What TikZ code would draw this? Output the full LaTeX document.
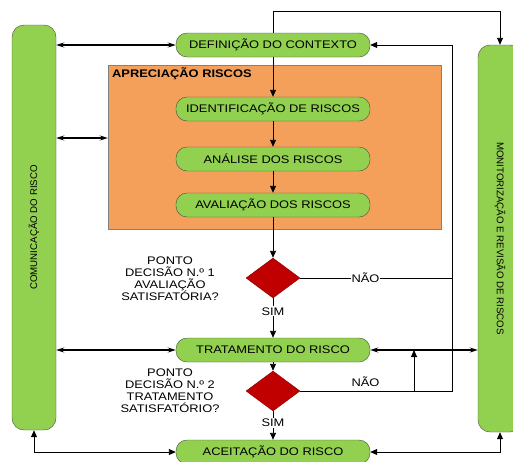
\documentclass[tikz,border=0pt]{standalone}
\usepackage{fontspec}
\setmainfont{Liberation Sans}[FakeStretch=1.17]
\newfontfamily\sidefont{Liberation Sans}
\usepackage{tikz}
\usetikzlibrary{calc}
\usetikzlibrary{arrows.meta}
\usetikzlibrary{shapes.geometric}
\usetikzlibrary{positioning}
\definecolor{leaf}{RGB}{146, 208, 80}
\definecolor{leafline}{RGB}{70, 80, 60}
\definecolor{apricot}{RGB}{245, 160, 90}
\definecolor{crimson}{RGB}{192, 0, 0}

\begin{document}
\begin{tikzpicture}[x=1pt, y=-1pt,
        every node/.style={font=\fontsize{11}{12}\selectfont},
        stepbox/.style={draw=leafline, fill=leaf, rounded corners=11pt, minimum width=194pt, minimum height=24pt, inner sep=0pt},
        sidebar/.style={draw=leafline, fill=leaf, rounded corners=12pt, minimum height=44pt, inner sep=0pt, font=\sidefont\fontsize{9.7}{11}\selectfont},
        decision/.style={diamond, draw=crimson!70!black, fill=crimson, minimum width=54pt, minimum height=40pt, inner sep=0pt},
        flow/.style={-{Triangle[length=7pt, width=6pt]}, line width=0.9pt},
        link/.style={{Stealth[length=8pt, width=5pt]}-{Stealth[length=8pt, width=5pt]}, line width=2.4pt},
        tag/.style={fill=white, inner sep=1pt}]
            % Frame to ensure alignment:
            \useasboundingbox[fill=white] (0, 0) rectangle (513, 461);
            % Side bars:
            \node[sidebar, rotate=90,  minimum width=405pt] (com) at ( 34, 227.5) {COMUNICAÇÃO DO RISCO};
            \node[sidebar, rotate=-90, minimum width=387pt] (mon) at (500, 238.5) {MONITORIZAÇÃO E REVISÃO DE RISCOS};
            % Appraisal block:
            \node[draw=gray, fill=apricot, minimum width=333pt, minimum height=164pt, inner sep=0pt] (aprec) at (274.5, 147) {};
            \node[anchor=north west, font=\bfseries\fontsize{11}{12}\selectfont, inner sep=0pt] (aprectitle) at (112, 68) {APRECIAÇÃO RISCOS};
            % Steps:
            \node[stepbox] (def)  at (273,  45) {DEFINIÇÃO DO CONTEXTO};
            \node[stepbox] (iden) at (273, 109) {IDENTIFICAÇÃO DE RISCOS};
            \node[stepbox] (ana)  at (273, 159) {ANÁLISE DOS RISCOS};
            \node[stepbox] (aval) at (273, 205) {AVALIAÇÃO DOS RISCOS};
            \node[decision] (d1)  at (273, 278) {};
            \node[stepbox] (trat) at (273, 350) {TRATAMENTO DO RISCO};
            \node[decision] (d2)  at (273, 391) {};
            \node[stepbox] (ace)  at (273, 452) {ACEITAÇÃO DO RISCO};
            % Questions:
            \node[align=center, inner sep=0pt] (q1) at (170, 279) {PONTO\\DECISÃO N.º 1\\AVALIAÇÃO\\SATISFATÓRIA?};
            \node[align=center, inner sep=0pt] (q2) at (170, 391) {PONTO\\DECISÃO N.º 2\\TRATAMENTO\\SATISFATÓRIO?};
            % Loop points:
            \coordinate (loop1) at (452, 278);
            \coordinate (loop2) at (452, 391);
            \coordinate (up2)   at (414, 391);
            % Main flow:
            \draw[flow] (def)  -- (iden);
            \draw[flow] (iden) -- (ana);
            \draw[flow] (ana)  -- (aval);
            \draw[flow] (aval) -- (d1);
            \draw[flow] (d1)   -- node[tag, pos=0.33] {SIM} (trat);
            \draw[flow] (trat) -- (d2);
            \draw[flow] (d2)   -- node[tag, pos=0.4] {SIM} (ace);
            % Loops back:
            \draw[flow] (d1.east) -- node[tag, pos=0.43] {NÃO} (loop1) |- (def.east);
            \draw[line width=0.9pt] (d2.east) -- node[above=1pt, pos=0.43] {NÃO} (loop2) -- (loop1);
            \draw[flow] (up2) -- (up2 |- trat.east);
            \draw[flow] (def.north) -- ++(0, -21) -| (mon.west);
            % Links with the side bars:
            \draw[link] (com.south |- def.west) -- (def.west);
            \draw[link] (com.south |- 0, 138) -- (aprec.west |- 0, 138);
            \draw[link] (com.south |- trat.west) -- (trat.west);
            \draw[link] (trat.east) -- (trat.east -| mon.south);
            \draw[flow, {Triangle[length=7pt, width=6pt]}-{Triangle[length=7pt, width=6pt]}] (com.west) |- (ace.west);
            \draw[flow, {Triangle[length=7pt, width=6pt]}-{Triangle[length=7pt, width=6pt]}] (ace.east) -| (mon.east);
        \end{tikzpicture}
\end{document}
